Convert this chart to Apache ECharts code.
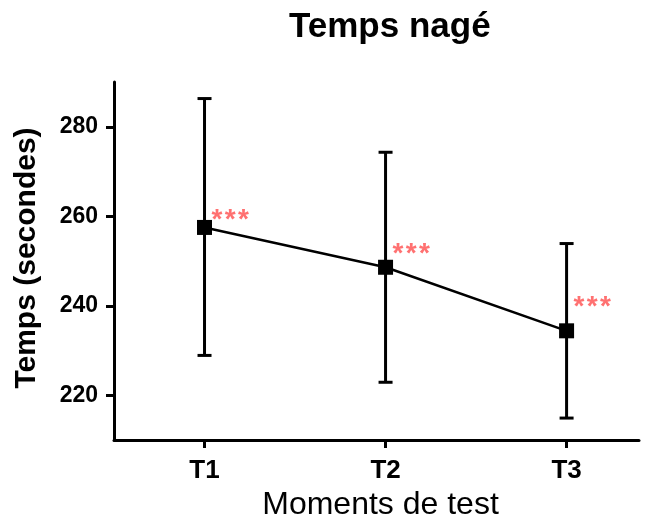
<!DOCTYPE html>
<html>
<head>
<meta charset="utf-8">
<script src="https://cdn.jsdelivr.net/npm/echarts@6/dist/echarts.min.js"></script>
<style>
  html, body { margin: 0; padding: 0; background: #fff; }
  #main { width: 648px; height: 526px; }
</style>
</head>
<body>
<div id="main"></div>
<script>
// données
const categories = ['T1', 'T2', 'T3'];
const means = [257.5, 248.6, 234.4];
const upper = [286.3, 274.3, 253.9];
const lower = [228.9, 222.9, 214.9];
const stars = ['***', '***', '***'];
const starY = [260.6, 253.0, 241.3];
const yTicks = [220, 240, 260, 280];

const font = '"Liberation Sans", Arial, sans-serif';

let xPos = categories.map((c, i) => i + 1);
let lineData = xPos.map((x, i) => [x, means[i]]);
let errData = xPos.map((x, i) => [x, lower[i], upper[i]]);
// espacement entre les astérisques
let starData = xPos.map((x, i) => ({
  value: [x, starY[i]],
  label: { formatter: stars[i].split('').join('\u200A') }
}));

let chart = echarts.init(document.getElementById('main'));

let option = {
  animation: false,
  title: {
    text: 'Temps nagé',
    left: 284,
    top: 5,
    textStyle: { fontFamily: font, fontSize: 35, fontWeight: 'bold', color: '#000' }
  },
  grid: { left: 114, top: 82, width: 525, height: 361 },
  xAxis: {
    type: 'value',
    min: 0.5,
    max: 3.4,
    name: 'Moments de test',
    nameLocation: 'middle',
    nameGap: 49,
    nameTextStyle: { fontFamily: font, fontSize: 32, color: '#000', padding: [0, 0, 0, 8] },
    splitLine: { show: false },
    axisLine: { lineStyle: { color: '#000', width: 3 } },
    axisTick: { show: true, length: 8, lineStyle: { color: '#000', width: 3 }, customValues: xPos },
    axisLabel: {
      customValues: xPos,
      margin: 18,
      fontFamily: font, fontSize: 26, fontWeight: 'bold', color: '#000',
      formatter: v => categories[Math.round(v) - 1]
    }
  },
  yAxis: {
    type: 'value',
    min: 210,
    max: 290,
    name: 'Temps (secondes)',
    nameLocation: 'middle',
    nameGap: 72,
    nameTextStyle: { fontFamily: font, fontSize: 30, fontWeight: 'bold', color: '#000', padding: [0, 0, 0, 6] },
    splitLine: { show: false },
    axisLine: { show: true, lineStyle: { color: '#000', width: 3 } },
    axisTick: { show: true, length: 8, lineStyle: { color: '#000', width: 3 }, customValues: yTicks },
    axisLabel: {
      customValues: yTicks,
      margin: 16,
      fontFamily: font, fontSize: 23, fontWeight: 'bold', color: '#000'
    }
  },
  series: [
    {
      type: 'custom',
      z: 2,
      data: errData,
      renderItem: (params, api) => {
        let top = api.coord([api.value(0), api.value(2)]);
        let bot = api.coord([api.value(0), api.value(1)]);
        let hw = 7;
        let style = { stroke: '#000', lineWidth: 3 };
        return {
          type: 'group',
          children: [
            { type: 'line', shape: { x1: top[0], y1: top[1], x2: bot[0], y2: bot[1] }, style: style },
            { type: 'line', shape: { x1: top[0] - hw, y1: top[1], x2: top[0] + hw, y2: top[1] }, style: style },
            { type: 'line', shape: { x1: bot[0] - hw, y1: bot[1], x2: bot[0] + hw, y2: bot[1] }, style: style }
          ]
        };
      }
    },
    {
      type: 'line',
      z: 3,
      data: lineData,
      symbol: 'rect',
      symbolSize: 15,
      itemStyle: { color: '#000' },
      lineStyle: { color: '#000', width: 2.5 }
    },
    {
      type: 'scatter',
      z: 4,
      data: starData,
      symbolSize: 0,
      label: {
        show: true,
        position: 'right',
        distance: 7,
        offset: [0, 7],
        fontFamily: font,
        fontWeight: 'bold',
        fontSize: 28,
        color: '#ff4d4d'
      }
    }
  ]
};

chart.setOption(option);
</script>
</body>
</html>
